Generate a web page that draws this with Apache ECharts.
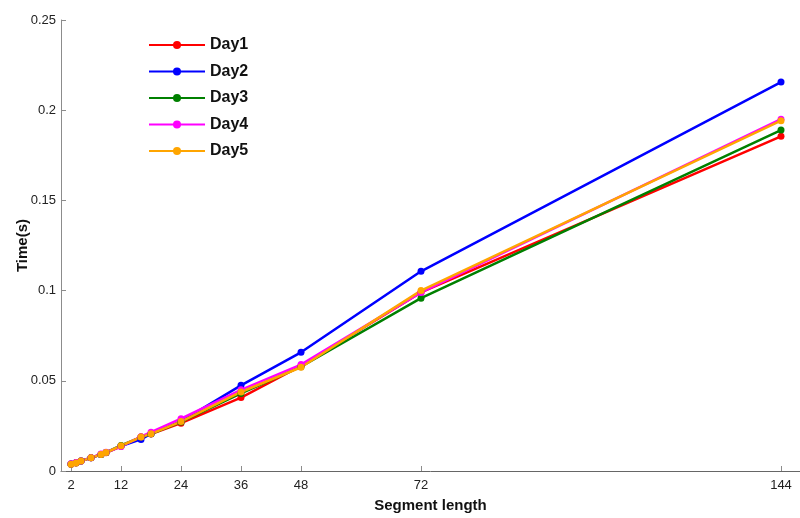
<!DOCTYPE html>
<html>
<head>
<meta charset="utf-8">
<script src="https://cdn.jsdelivr.net/npm/echarts@6/dist/echarts.min.js"></script>
<style>
  html, body { margin: 0; padding: 0; background: #fff; }
  #chart { width: 800px; height: 518px; }
</style>
</head>
<body>
<div id="chart"></div>
<script>
// segment lengths (x) and times in seconds per day
const segLen = [2, 3, 4, 6, 8, 9, 12, 16, 18, 24, 36, 48, 72, 144]
const xTicks = [2, 12, 24, 36, 48, 72, 144]

const day1 = [0.0038, 0.0045, 0.0055, 0.0073, 0.0091, 0.0101, 0.0137, 0.0188, 0.0205, 0.0265, 0.0407, 0.0582, 0.0990, 0.1855]
const day2 = [0.0039, 0.0046, 0.0055, 0.0073, 0.0092, 0.0102, 0.0138, 0.0175, 0.0207, 0.0275, 0.0475, 0.0658, 0.1107, 0.2156]
const day3 = [0.0039, 0.0046, 0.0056, 0.0074, 0.0092, 0.0103, 0.0142, 0.0188, 0.0206, 0.0272, 0.0430, 0.0578, 0.0958, 0.1890]
const day4 = [0.0040, 0.0047, 0.0056, 0.0074, 0.0094, 0.0104, 0.0136, 0.0190, 0.0215, 0.0290, 0.0450, 0.0590, 0.0990, 0.1950]
const day5 = [0.0038, 0.0045, 0.0055, 0.0073, 0.0092, 0.0102, 0.0140, 0.0188, 0.0206, 0.0274, 0.0438, 0.0575, 0.1000, 0.1942]

const names = ['Day1', 'Day2', 'Day3', 'Day4', 'Day5']
const colors = ['#ff0000', '#0000ff', '#008000', '#ff00ff', '#ffa500']
const days = [day1, day2, day3, day4, day5]

const chart = echarts.init(document.getElementById('chart'))

const axisGray = '#8c8c8c'
const labelStyle = { color: '#222', fontFamily: 'Arial, Liberation Sans', fontSize: 13 }
const titleStyle = { fontFamily: 'Arial, Liberation Sans', fontSize: 15, fontWeight: 'bold', color: '#111' }

chart.setOption({
  animation: false,
  color: colors,
  grid: {
    left: 61,
    top: 20,
    width: 739,
    height: 456
  },
  legend: {
    orient: 'vertical',
    left: 143,
    top: 32,
    itemWidth: 56,
    itemHeight: 10,
    itemGap: 10.5,
    textStyle: { fontFamily: 'Arial, Liberation Sans', fontSize: 16, fontWeight: 'bold', color: '#111' },
    data: names
  },
  xAxis: {
    type: 'value',
    min: 0,
    max: 147.8,
    name: 'Segment length',
    nameLocation: 'middle',
    nameGap: 27,
    nameTextStyle: titleStyle,
    axisLine: { lineStyle: { color: '#666', width: 1 } },
    axisTick: { inside: true, length: 5, lineStyle: { color: axisGray }, customValues: xTicks },
    axisLabel: Object.assign({ margin: 8, customValues: xTicks }, labelStyle),
    splitLine: { show: false }
  },
  yAxis: {
    type: 'value',
    min: 0,
    max: 0.25,
    interval: 0.05,
    name: 'Time(s)',
    nameLocation: 'middle',
    nameGap: 31,
    nameMoveOverlap: false,
    nameTextStyle: titleStyle,
    axisLine: { show: true, lineStyle: { color: axisGray, width: 1 } },
    axisTick: { show: true, inside: true, length: 5, lineStyle: { color: axisGray } },
    axisLabel: Object.assign({ margin: 5, formatter: v => String(+v.toFixed(2)) }, labelStyle),
    splitLine: { show: false }
  },
  series: days.map((d, i) => ({
    name: names[i],
    type: 'line',
    data: segLen.map((x, j) => [x, d[j]]),
    symbol: 'circle',
    symbolSize: 7,
    lineStyle: { width: 2.5, color: colors[i] },
    itemStyle: { color: colors[i] }
  }))
})
</script>
</body>
</html>
